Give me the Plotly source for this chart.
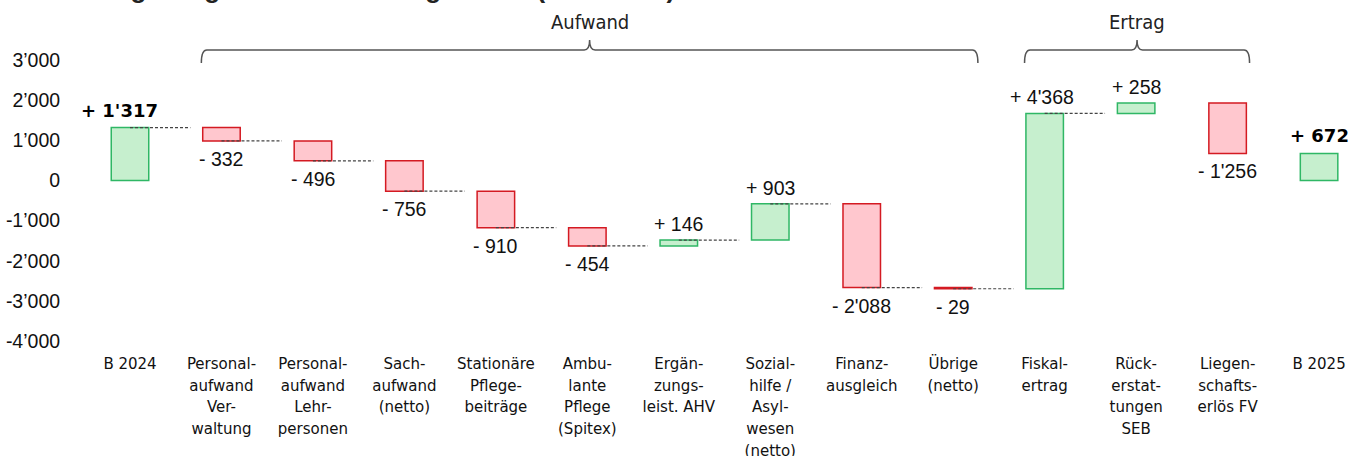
import plotly.graph_objects as go

categories = [
    "B 2024",
    "Personal-<br>aufwand<br>Ver-<br>waltung",
    "Personal-<br>aufwand<br>Lehr-<br>personen",
    "Sach-<br>aufwand<br>(netto)",
    "Stationäre<br>Pflege-<br>beiträge",
    "Ambu-<br>lante<br>Pflege<br>(Spitex)",
    "Ergän-<br>zungs-<br>leist. AHV",
    "Sozial-<br>hilfe /<br>Asyl-<br>wesen<br>(netto)",
    "Finanz-<br>ausgleich",
    "Übrige<br>(netto)",
    "Fiskal-<br>ertrag",
    "Rück-<br>erstat-<br>tungen<br>SEB",
    "Liegen-<br>schafts-<br>erlös FV",
    "B 2025",
]
values = [1317, -332, -496, -756, -910, -454, 146, 903, -2088, -29, 4368, 258, -1256, 672]
measures = ["total"] + ["relative"] * 12 + ["total"]
value_labels = ["+ 1'317", "- 332", "- 496", "- 756", "- 910", "- 454", "+ 146",
                "+ 903", "- 2'088", "- 29", "+ 4'368", "+ 258", "- 1'256", "+ 672"]
y_tickvals = [-4000, -3000, -2000, -1000, 0, 1000, 2000, 3000]
y_ticktext = ["-4’000", "-3’000", "-2’000", "-1’000", "0", "1’000", "2’000", "3’000"]
groups = [("Aufwand", 1, 9), ("Ertrag", 10, 12)]
title_text = "Überleitung Budget 2024 zum Budget 2025 (in Mio. Fr.)"

NARROW = "Liberation Sans Narrow, Arial Narrow, DejaVu Sans Condensed, sans-serif"
REG = "Liberation Sans, Arial, sans-serif"
BOLD = "DejaVu Sans, Verdana, sans-serif"

G_FILL, G_LINE = "#c6efce", "#2fb765"
R_FILL, R_LINE = "#ffc7ce", "#d41a22"

# compute bar bases / ends
bases, ends = [], []
run = 0
for v, m in zip(values, measures):
    if m == "total":
        bases.append(0)
        ends.append(v)
        run = v
    else:
        bases.append(run)
        run += v
        ends.append(run)

xs = list(range(len(categories)))
pos_idx = [i for i in xs if values[i] >= 0]
neg_idx = [i for i in xs if values[i] < 0]

fig = go.Figure()
fig.add_trace(go.Bar(
    x=[xs[i] for i in pos_idx], y=[values[i] for i in pos_idx],
    base=[bases[i] for i in pos_idx], width=0.41,
    marker=dict(color=G_FILL, line=dict(color=G_LINE, width=1.5)),
    hoverinfo="skip", showlegend=False))
fig.add_trace(go.Bar(
    x=[xs[i] for i in neg_idx], y=[values[i] for i in neg_idx],
    base=[bases[i] for i in neg_idx], width=0.41,
    marker=dict(color=R_FILL, line=dict(color=R_LINE, width=1.5)),
    hoverinfo="skip", showlegend=False))

# connectors
cx, cy = [], []
for i in range(11):
    cx += [xs[i], xs[i] + 0.66, None]
    cy += [ends[i], ends[i], None]
fig.add_trace(go.Scatter(x=cx, y=cy, mode="lines",
                         line=dict(color="#444444", width=1.2, dash="3px,2px"),
                         hoverinfo="skip", showlegend=False))

annotations = []
for i in xs:
    top = max(bases[i], bases[i] + values[i])
    bot = min(bases[i], bases[i] + values[i])
    total = measures[i] == "total"
    font = dict(family=BOLD, size=18, color="#000000", weight="bold") if total else \
        dict(family=REG, size=19.5, color="#111111")
    if values[i] >= 0:
        annotations.append(dict(x=xs[i], y=top, xref="x", yref="y", text=value_labels[i],
                                showarrow=False, yanchor="bottom", yshift=5 if total else 3,
                                xshift=-11 if i == 0 else (-3 if i == 10 else 0),
                                font=font))
    else:
        annotations.append(dict(x=xs[i], y=bot, xref="x", yref="y", text=value_labels[i],
                                showarrow=False, yanchor="top", yshift=-5, font=font))

# group brackets
PLOT_TOP, PLOT_H = 60, 281
def py(p):
    return (341 - p) / PLOT_H

shapes = []
for name, a, b in groups:
    x0 = a - 0.22
    x1 = b + 0.27 if name == "Aufwand" else b + 0.24
    xc = (x0 + x1) / 2
    d = 0.06
    yb, ym, yt = py(63), py(50), py(40)
    path = (f"M {x0},{yb} Q {x0},{ym} {x0 + d},{ym} L {xc - d},{ym} "
            f"Q {xc},{ym} {xc},{yt} Q {xc},{ym} {xc + d},{ym} L {x1 - d},{ym} "
            f"Q {x1},{ym} {x1},{yb}")
    shapes.append(dict(type="path", path=path, xref="x", yref="paper",
                       line=dict(color="#555555", width=1.5)))
    annotations.append(dict(x=xc, y=py(22), xref="x", yref="paper", text=name,
                            showarrow=False, yanchor="middle",
                            font=dict(family=NARROW, size=20, color="#222222")))

annotations.append(dict(x=-70 / 1282, y=py(6), xref="paper", yref="paper", text=title_text,
                        showarrow=False, xanchor="left", yanchor="bottom",
                        font=dict(family=REG, size=26, color="#222222", weight="bold")))

fig.update_layout(
    width=1362, height=456,
    margin=dict(l=70, r=10, t=60, b=115),
    plot_bgcolor="white", paper_bgcolor="white",
    barmode="overlay",
    shapes=shapes, annotations=annotations,
    xaxis=dict(tickmode="array", tickvals=xs, ticktext=categories, automargin=False,
               range=[-0.656, 13.36], showgrid=False, zeroline=False, showline=False,
               ticks="outside", ticklen=7, tickcolor="rgba(0,0,0,0)",
               tickfont=dict(family=NARROW, size=16.7, color="#111111")),
    yaxis=dict(tickmode="array", tickvals=y_tickvals, ticktext=y_ticktext, automargin=False,
               range=[-4000, 3000], showgrid=False, zeroline=False, showline=False,
               ticks="outside", ticklen=5, tickcolor="rgba(0,0,0,0)",
               tickfont=dict(family=REG, size=19.5, color="#111111")),
)

fig.write_html("out.html", config={"displayModeBar": False},
               post_script="document.body.style.margin='0';")
